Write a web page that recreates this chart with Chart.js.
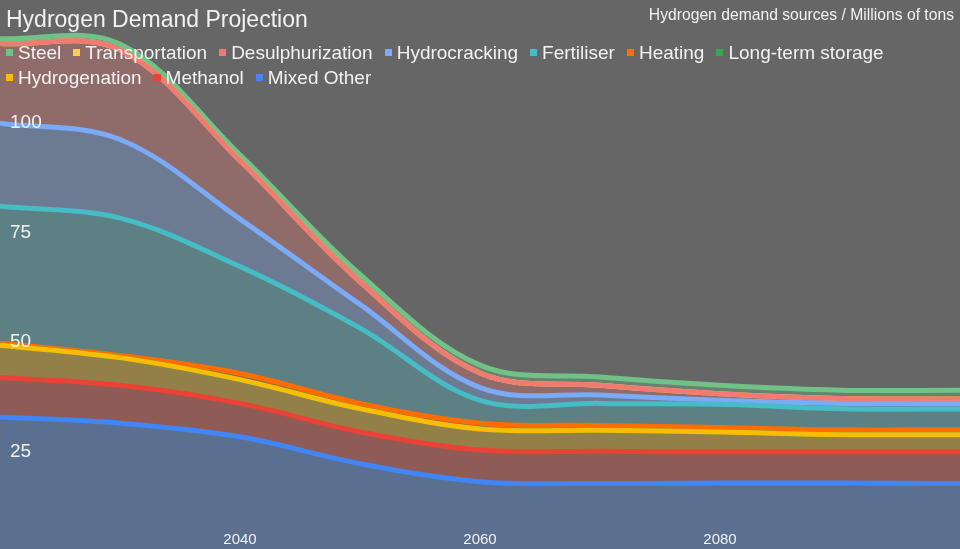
<!DOCTYPE html>
<html>
<head>
<meta charset="utf-8">
<title>Hydrogen Demand Projection</title>
<script src="https://cdn.jsdelivr.net/npm/chart.js@4.4.1/dist/chart.umd.min.js"></script>
<style>
  html, body { margin: 0; padding: 0; background: #666666; }
  #wrap { position: relative; width: 960px; height: 549px; overflow: hidden; background: #666666;
          font-family: "Liberation Sans", Arial, sans-serif; color: #f2f2f2; }
  #chart { position: absolute; left: 0; top: 0; }
  .title { position: absolute; left: 6px; top: 5px; font-size: 23px; line-height: 28px; white-space: nowrap; }
  .subtitle { position: absolute; right: 6px; top: 5px; font-size: 15.7px; line-height: 20px; white-space: nowrap; }
  #legend { position: absolute; left: 6px; top: 39.5px; width: 950px; display: flex; flex-wrap: wrap;
            column-gap: 12px; font-size: 19px; line-height: 25px; }
  .item { display: flex; align-items: center; white-space: nowrap; }
  .box { width: 7px; height: 7px; margin-right: 5px; }
</style>
</head>
<body>
<div id="wrap">
  <canvas id="chart" width="960" height="549"></canvas>
  <div class="title">Hydrogen Demand Projection</div>
  <div class="subtitle">Hydrogen demand sources / Millions of tons</div>
  <div id="legend"></div>
</div>
<script>
// Years on the x axis (one point per decade)
const years = [2020, 2030, 2040, 2050, 2060, 2070, 2080, 2090, 2100];

// Demand per source, millions of tons
const mixedOther       = [33.0, 31.6, 28.5, 22.4, 18.3, 17.9, 18.0, 18.0, 17.9];
const methanol         = [9.0, 8.6, 7.6, 7.2, 7.2, 7.3, 7.1, 7.1, 7.2];
const hydrogenation    = [7.3, 6.3, 5.4, 5.3, 4.8, 4.8, 4.5, 3.9, 3.9];
const longTermStorage  = [0, 0, 0, 0, 0, 0, 0, 0, 0];
const heating          = [0.5, 0.5, 1.4, 1.2, 1.3, 1.1, 1.0, 1.1, 1.1];
const fertiliser       = [31.1, 31.2, 24.3, 17.1, 5.2, 5.0, 5.3, 4.8, 4.7];
const hydrocracking    = [18.9, 17.9, 10.8, 5.4, 2.9, 1.9, 0.9, 1.2, 1.2];
const desulphurization = [18.1, 20.4, 13.3, 5.2, 3.3, 2.2, 1.5, 1.1, 1.1];
const transportation   = [0, 0, 0, 0, 0, 0, 0, 0, 0];
const steel            = [1.1, 1.3, 1.3, 1.6, 1.8, 1.9, 1.9, 1.9, 2.0];

// Stack order, bottom to top
const seriesNames = ["Mixed Other", "Methanol", "Hydrogenation", "Long-term storage", "Heating",
                     "Fertiliser", "Hydrocracking", "Desulphurization", "Transportation", "Steel"];
const seriesValues = [mixedOther, methanol, hydrogenation, longTermStorage, heating,
                      fertiliser, hydrocracking, desulphurization, transportation, steel];
const seriesColors = ["#4285f4", "#ea4335", "#fbbc04", "#34a853", "#ff6d01",
                      "#46bdc6", "#7baaf7", "#f07b72", "#fcd04f", "#71c287"];

const yTicks = [25, 50, 75, 100];
const xTicks = [2040, 2060, 2080];

function fade(hex, a) {
    const n = parseInt(hex.slice(1), 16);
    return `rgba(${(n >> 16) & 255}, ${(n >> 8) & 255}, ${n & 255}, ${a})`;
}

const textColor = "#f2f2f2";
Chart.defaults.font.family = '"Liberation Sans", Arial, sans-serif';

const datasets = seriesNames.map((name, i) => ({
    label: name,
    data: years.map((yr, j) => ({ x: yr, y: seriesValues[i][j] })),
    borderColor: seriesColors[i],
    backgroundColor: fade(seriesColors[i], 0.3),
    borderWidth: 5,
    pointRadius: 0,
    fill: i === 0 ? "origin" : "-1",
    tension: 0.35
}));

const chart = new Chart(document.getElementById("chart"), {
    type: "line",
    data: { datasets: datasets },
    options: {
        responsive: false,
        animation: false,
        layout: { padding: 0 },
        plugins: {
            legend: { display: false },
            title: { display: false },
            tooltip: { enabled: false },
            filler: { drawTime: "beforeDatasetsDraw" }
        },
        scales: {
            x: {
                type: "linear",
                min: 2020,
                max: 2100,
                position: { y: 9 },
                grid: { display: false },
                border: { display: false },
                ticks: {
                    z: 1,
                    padding: 0,
                    maxRotation: 0,
                    color: textColor,
                    font: { size: 15 },
                    callback: v => String(v)
                },
                afterBuildTicks: s => { s.ticks = xTicks.map(v => ({ value: v })); },
                afterFit: s => { s.paddingLeft = 0; s.paddingRight = 0; }
            },
            y: {
                stacked: true,
                min: 3,
                max: 127.8,
                position: "left",
                grid: { display: false },
                border: { display: false },
                ticks: {
                    z: 1,
                    mirror: true,
                    padding: 10,
                    color: textColor,
                    font: { size: 19 }
                },
                afterBuildTicks: s => { s.ticks = yTicks.map(v => ({ value: v })); },
                afterFit: s => { s.paddingTop = 0; s.paddingBottom = 0; s.width = 0; }
            }
        }
    }
});

// Legend, in reverse stack order like the original
const legend = document.getElementById("legend");
chart.data.datasets.slice().reverse().forEach(ds => {
    const item = document.createElement("div");
    item.className = "item";
    item.innerHTML = `<span class="box" style="background:${ds.borderColor}"></span><span>${ds.label}</span>`;
    legend.appendChild(item);
});
</script>
</body>
</html>
